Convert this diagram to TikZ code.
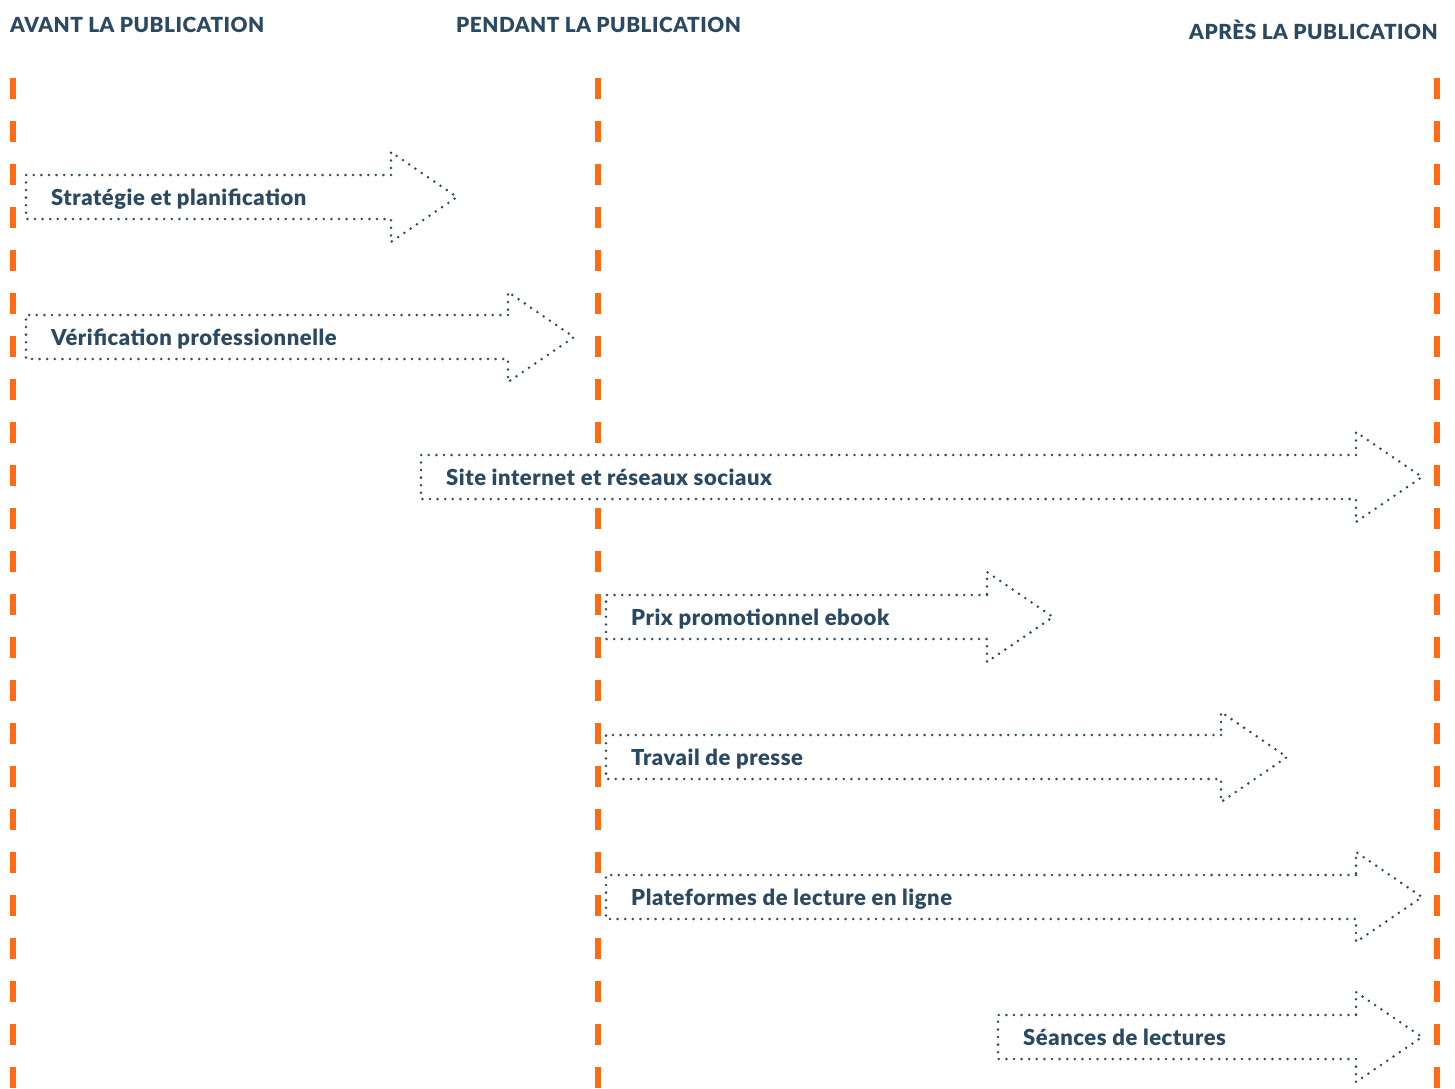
\documentclass[tikz,border=0pt]{standalone}
\usepackage{fontspec}
\setmainfont{Lato}[BoldFont={Lato Black},LetterSpace=2.5]
\usetikzlibrary{calc}
\definecolor{phaseorange}{HTML}{FF6A13}
\definecolor{inkblue}{HTML}{2B4A62}
\tikzset{
    phaseline/.style={phaseorange,line width=5.5pt,dash pattern=on 21pt off 22pt},
    dotline/.style={inkblue,line width=2.8pt,line cap=round,dash pattern=on 0pt off 7.6pt},
    phasehead/.style={inkblue,font=\fontsize{20.8}{24}\selectfont\bfseries,inner sep=0pt},
    tasklabel/.style={inkblue,font=\fontsize{22}{25}\selectfont\bfseries,inner sep=0pt,anchor=base west}
}
% dotted arrow: #1 name, #2 left x, #3 body end x, #4 mid y, #5 text
\newcommand{\taskarrow}[5]{
    \filldraw[dotline,fill=white] (#3,#4-22) -- (#2,#4-22) -- (#2,#4+22) -- (#3,#4+22) -- (#3,#4+45)
        -- (#3+66,#4) -- (#3,#4-45) -- cycle;
    \node[tasklabel] (#1) at (#2+25,#4+8) {#5};
}
\begin{document}
\begin{tikzpicture}[x=1pt,y=-1pt]
    \useasboundingbox (0,0) rectangle (1455,1088);

    \node[phasehead,anchor=base west] (avant) at (10,32) {AVANT LA PUBLICATION};
    \node[phasehead,anchor=base west] (pendant) at (456,32) {PENDANT LA PUBLICATION};
    \node[phasehead,anchor=base east] (apres) at (1438,39) {APRÈS LA PUBLICATION};

    \draw[phaseline] (13,78) -- (13,1088);
    \draw[phaseline] (598,78) -- (598,1088);
    \draw[phaseline] (1437,78) -- (1437,1088);

    \taskarrow{strategie}{26}{391}{197}{Stratégie et planification}
    \taskarrow{verif}{26}{508}{337}{Vérification professionnelle}
    \taskarrow{site}{421}{1356}{477}{Site internet et réseaux sociaux}
    \taskarrow{prix}{606}{987}{617}{Prix promotionnel ebook}
    \taskarrow{presse}{606}{1221}{757}{Travail de presse}
    \taskarrow{plateformes}{606}{1356}{897}{Plateformes de lecture en ligne}
    \taskarrow{seances}{998}{1356}{1037}{Séances de lectures}

\end{tikzpicture}
\end{document}
